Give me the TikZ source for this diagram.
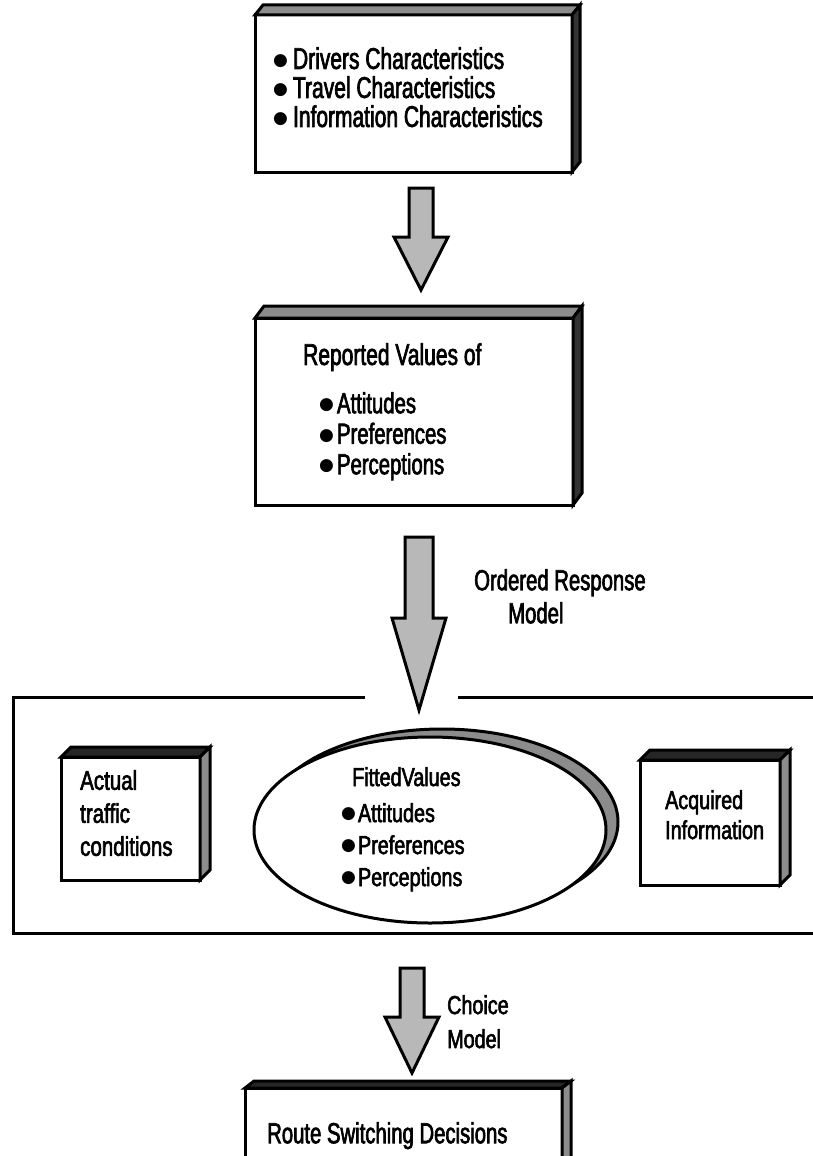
\documentclass[tikz,border=0pt]{standalone}
\usepackage{fontspec}
\setmainfont{Liberation Sans}[FakeStretch=0.7, FakeBold=2.2]
\newfontfamily\widefont{Liberation Sans}[FakeStretch=0.76, FakeBold=2.2]
\newfontfamily\dotfont{DejaVu Sans}
\newcommand{\bul}{{\dotfont\fontsize{17}{17}\selectfont\raisebox{3.5pt}{●}}}
\usetikzlibrary{calc,shapes.geometric}

\tikzset{
  edge/.style={draw=black, line width=3pt, line join=miter},
  panel/.style={edge, fill=white, rectangle, inner sep=0pt, outer sep=0pt},
  arrowbody/.style={edge, fill=black!28},
  bigtext/.style={inner sep=0pt, align=left, anchor=north west, font=\fontsize{30}{29}\selectfont},
  smalltext/.style={inner sep=0pt, align=left, anchor=north west, font=\widefont\fontsize{26}{32}\selectfont},
}

% top strip and right side of a raised box
\newcommand{\boxdepth}[5]{%
  \draw[edge, fill=#4] (#1.north west) -- ++(#2,-#3) -- ($(#1.north east)+(#2,-#3)$) -- (#1.north east) -- cycle;
  \draw[edge, fill=#5] (#1.north east) -- ++(#2,-#3) -- ($(#1.south east)+(#2,-#3)$) -- (#1.south east) -- cycle;
}
% hollow block arrow: top, tip, half shaft width, head length
\newcommand{\blockarrow}[4]{%
  \draw[arrowbody] ($(#1)+(-#3,0)$) -- ($(#2)+(-#3,-#4)$) -- ($(#2)+(-27,-#4)$) -- (#2)
    -- ($(#2)+(27,-#4)$) -- ($(#2)+(#3,-#4)$) -- ($(#1)+(#3,0)$) -- cycle;
}

\begin{document}
\begin{tikzpicture}[x=1pt, y=-1pt]
  \useasboundingbox (0,0) rectangle (812,1156);

  % --- characteristics ---
  \node[panel, minimum width=317, minimum height=157] (drivers) at (413.5,93.5) {};
  \boxdepth{drivers}{8}{10}{black!45}{black!80}
  \node[bigtext] (driverstxt) at (273,47)
    {\bul\hspace{5pt}Drivers Characteristics\\
     \bul\hspace{5pt}Travel Characteristics\\
     \bul\hspace{5pt}Information Characteristics};

  % --- reported values ---
  \node[panel, minimum width=318, minimum height=187] (reported) at (414,411.5) {};
  \boxdepth{reported}{9}{12}{black!45}{black!80}
  \node[bigtext] (reportedtxt) at (303,343) {Reported Values of};
  \node[bigtext, font=\fontsize{29}{30.5}\selectfont] (reportedlist) at (319,392)
    {\bul\hspace{3pt}Attitudes\\
     \bul\hspace{3pt}Preferences\\
     \bul\hspace{3pt}Perceptions};

  % --- arrows ---
  \coordinate (aTop) at (421,188);  \coordinate (aTip) at (421,290);
  \coordinate (bTop) at (419,537);  \coordinate (bTip) at (419,710);
  \coordinate (cTop) at (412,968);  \coordinate (cTip) at (412,1073);
  \blockarrow{aTop}{aTip}{12}{53}
  \blockarrow{bTop}{bTip}{14}{92}
  \blockarrow{cTop}{cTip}{12}{56}
  \node[bigtext, font=\fontsize{29}{33}\selectfont] (ordered) at (474,569)
    {Ordered Response\\\hspace*{34pt}Model};
  \node[smalltext, font=\widefont\fontsize{26}{34}\selectfont] (choice) at (447,995)
    {Choice\\Model};

  % --- frame ---
  \coordinate (frameL) at (365,697);
  \coordinate (frameR) at (458,697);
  \draw[edge] (frameL) -- (13,697) -- (13,933) -- (816,933);
  \draw[edge] (frameR) -- (816,697);

  % --- traffic / fitted values / information ---
  \node[panel, minimum width=139, minimum height=123] (traffic) at (130.5,818.5) {};
  \boxdepth{traffic}{10}{10}{black!85}{black!45}
  \node[smalltext, font=\widefont\fontsize{27}{33}\selectfont] (traffictxt) at (80,770)
    {Actual\\traffic\\conditions};

  \draw[edge, fill=black!45] (442,822) ellipse [x radius=176, y radius=93];
  \node[edge, fill=white, ellipse, inner sep=0pt, outer sep=0pt,
        minimum width=352, minimum height=186] (fitted) at (430,830) {};
  \node[smalltext] (fittedtxt) at (352,767) {FittedValues};
  \node[smalltext] (fittedlist) at (341,803)
    {\bul\hspace{2pt}Attitudes\\
     \bul\hspace{2pt}Preferences\\
     \bul\hspace{2pt}Perceptions};

  \node[panel, minimum width=140, minimum height=125] (acquired) at (710,822.5) {};
  \boxdepth{acquired}{10}{10}{black!85}{black!45}
  \node[smalltext, font=\widefont\fontsize{26}{30}\selectfont] (acquiredtxt) at (665,790)
    {Acquired\\Information};

  % --- decisions ---
  \node[panel, minimum width=317, minimum height=92] (route) at (403.5,1134) {};
  \boxdepth{route}{9}{7}{black!85}{black!45}
  \node[bigtext, font=\fontsize{29}{29}\selectfont] (routetxt) at (267,1122)
    {Route Switching Decisions};
\end{tikzpicture}
\end{document}
